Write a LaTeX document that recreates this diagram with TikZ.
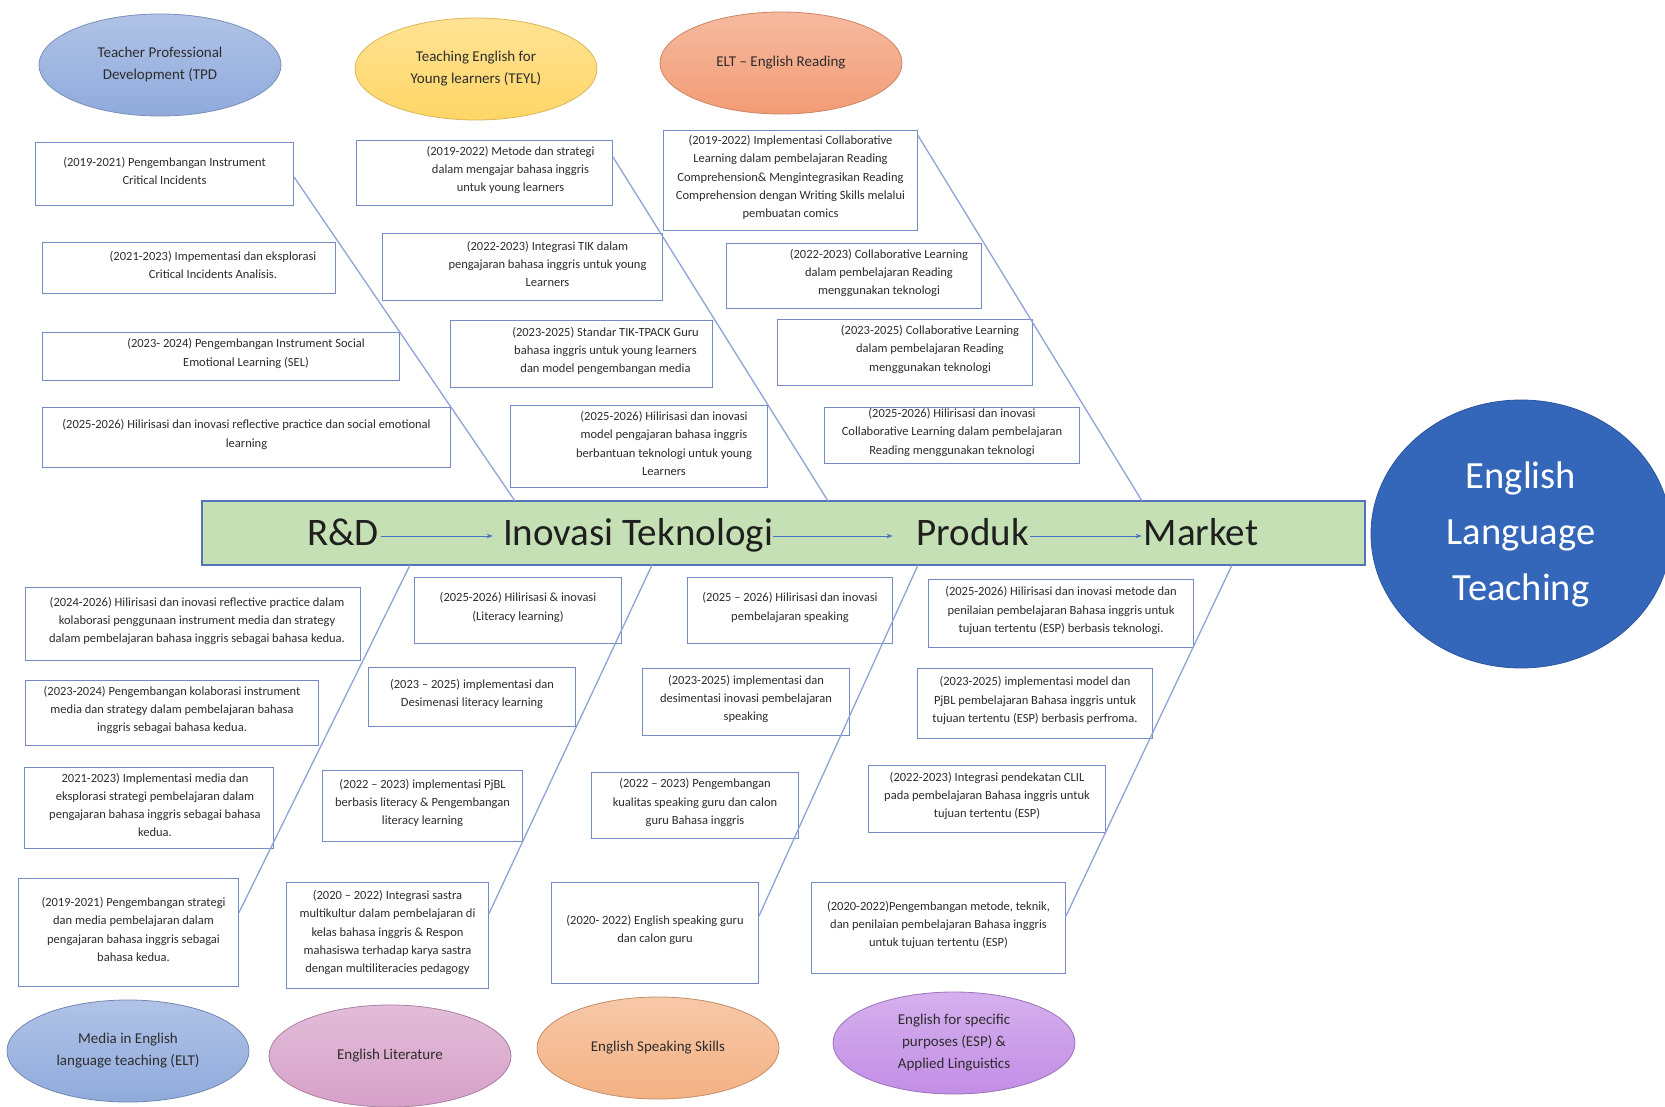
\documentclass[tikz,border=0pt]{standalone}
\usepackage{fontspec}
\setmainfont{Carlito}
\usetikzlibrary{shapes.geometric,arrows.meta}

\definecolor{boxline}{RGB}{118,138,196}
\definecolor{boneline}{RGB}{143,163,214}
\definecolor{spinefill}{RGB}{197,224,180}
\definecolor{spineline}{RGB}{84,116,186}
\definecolor{flowline}{RGB}{68,114,196}
\definecolor{goalblue}{RGB}{52,102,186}
\definecolor{tpdblue}{RGB}{143,170,220}
\definecolor{teylgold}{RGB}{255,214,102}
\definecolor{eltsalmon}{RGB}{242,156,118}
\definecolor{litpink}{RGB}{214,160,200}
\definecolor{spkorange}{RGB}{244,177,131}
\definecolor{esppurple}{RGB}{195,142,230}
\definecolor{textgray}{RGB}{45,45,45}

\newcommand{\yearfont}{\fontsize{12.5}{18.3}\selectfont}
\newcommand{\topicfont}{\fontsize{15}{22}\selectfont}
\newcommand{\stagefont}{\fontsize{39}{47}\selectfont}
\newcommand{\goalfont}{\fontsize{38.5}{56}\selectfont}

\tikzset{
  yearbox/.style={draw=boxline, fill=white, line width=1pt, inner sep=0pt, anchor=north west},
  yeartext/.style={font=\yearfont, align=center, text=textgray, inner sep=0pt, yshift=3pt},
  topic/.style={ellipse, minimum width=242pt, minimum height=102pt, inner sep=0pt,
    align=center, font=\topicfont, text=textgray, line width=0.8pt},
  spine/.style={draw=spineline, fill=spinefill, line width=1.2pt, inner sep=0pt,
    minimum width=1163pt, minimum height=64pt},
  stage/.style={font=\stagefont, text=black!88, inner sep=0pt, anchor=base,
    text height=26pt, text depth=8pt},
  flow/.style={draw=flowline, line width=0.9pt, -{Stealth[length=6pt,width=4.5pt]}},
  bone/.style={draw=boneline, line width=1.3pt},
  goal/.style={ellipse, fill=goalblue, draw=goalblue!85!black, line width=0.8pt,
    minimum width=300pt, minimum height=268pt, inner sep=0pt, align=center,
    font=\goalfont, text=white}
}

\begin{document}
\begin{tikzpicture}[x=1pt, y=-1pt]
  \path[use as bounding box, fill=white] (0,0) rectangle (1665,1107);
  % goal of the fishbone
  \node[goal] (goal) at (1521,534) {English\\Language\\Teaching};
  % spine with its stages
  \node[spine] (spine) at (783.5,533) {};
  \foreach \name/\cx/\txt in {rd/343/R\&D, inovasi/638/Inovasi Teknologi, produk/973/Produk, market/1201/Market}
  {
    \node[stage] (\name) at (\cx,545) {\txt};
  }
  \draw[flow, shorten <=2pt, shorten >=10pt] (rd) -- (inovasi);
  \draw[flow, shorten >=24pt] (inovasi) -- (produk);
  \draw[flow, shorten <=1pt, shorten >=2pt] (produk) -- (market);
  % topics above the spine
  \foreach \name/\cx/\cy/\col/\txt in {tpd/160/65/tpdblue/{Teacher Professional\\Development (TPD},
    teyl/476/69/teylgold/{Teaching English for\\Young learners (TEYL)},
    elt/781/63/eltsalmon/{ELT -- English Reading}}
  {
    \node[topic, top color=\col!70!white, bottom color=\col, draw=\col!85!black] (\name) at (\cx,\cy) {\txt};
  }
  % topics below the spine
  \foreach \name/\cx/\cy/\col/\txt in {med/128/1051/tpdblue/{Media in English\\language teaching (ELT)},
    lit/390/1056/litpink/{English Literature},
    spk/658/1048/spkorange/{English Speaking Skills},
    esp/954/1043/esppurple/{English for specific\\purposes (ESP) \&\\Applied Linguistics}}
  {
    \node[topic, top color=\col!70!white, bottom color=\col, draw=\col!80!black] (\name) at (\cx,\cy) {\txt};
  }
  % TPD boxes
  \foreach \name/\xa/\ya/\xb/\yb/\dx/\txt in {
    tpdA/35/142/293/205/0/{(2019-2021) Pengembangan Instrument\\Critical Incidents},
    tpdB/42/242/335/293/24/{(2021-2023) Impementasi dan eksplorasi\\Critical Incidents Analisis.},
    tpdC/42/332/399/380/25/{(2023- 2024) Pengembangan Instrument Social\\Emotional Learning (SEL)},
    tpdD/42/407/450/467/0/{(2025-2026) Hilirisasi dan inovasi reflective practice dan social emotional\\learning}}
  {
    \node[yearbox, minimum width={(\xb-\xa)*1pt}, minimum height={(\yb-\ya)*1pt}] (\name) at (\xa,\ya) {};
    \node[yeartext, xshift=\dx pt] (\name-txt) at (\name.center) {\txt};
  }
  % TEYL boxes
  \foreach \name/\xa/\ya/\xb/\yb/\dx/\txt in {
    teylA/356/140/612/205/26/{(2019-2022) Metode dan strategi\\dalam mengajar bahasa inggris\\untuk young learners},
    teylB/382/233/662/300/25/{(2022-2023) Integrasi TIK dalam\\pengajaran bahasa inggris untuk young\\Learners},
    teylC/450/320/712/387/24/{(2023-2025) Standar TIK-TPACK Guru\\bahasa inggris untuk young learners\\dan model pengembangan media},
    teylD/510/405/767/487/25/{(2025-2026) Hilirisasi dan inovasi\\model pengajaran bahasa inggris\\berbantuan teknologi untuk young\\Learners}}
  {
    \node[yearbox, minimum width={(\xb-\xa)*1pt}, minimum height={(\yb-\ya)*1pt}] (\name) at (\xa,\ya) {};
    \node[yeartext, xshift=\dx pt] (\name-txt) at (\name.center) {\txt};
  }
  % ELT reading boxes
  \foreach \name/\xa/\ya/\xb/\yb/\dx/\txt in {
    eltA/663/130/917/230/0/{(2019-2022) Implementasi Collaborative\\Learning dalam pembelajaran Reading\\Comprehension\& Mengintegrasikan Reading\\Comprehension dengan Writing Skills melalui\\pembuatan comics},
    eltB/726/243/981/308/25/{(2022-2023) Collaborative Learning\\dalam pembelajaran Reading\\menggunakan teknologi},
    eltC/777/319/1032/385/25/{(2023-2025) Collaborative Learning\\dalam pembelajaran Reading\\menggunakan teknologi},
    eltD/824/407/1079/463/0/{(2025-2026) Hilirisasi dan inovasi\\Collaborative Learning dalam pembelajaran\\Reading menggunakan teknologi}}
  {
    \node[yearbox, minimum width={(\xb-\xa)*1pt}, minimum height={(\yb-\ya)*1pt}] (\name) at (\xa,\ya) {};
    \node[yeartext, xshift=\dx pt] (\name-txt) at (\name.center) {\txt};
  }
  % media boxes
  \foreach \name/\xa/\ya/\xb/\yb/\dx/\txt in {
    medA/25/587/360/660/4/{(2024-2026) Hilirisasi dan inovasi reflective practice dalam\\kolaborasi penggunaan instrument media dan strategy\\dalam pembelajaran bahasa inggris sebagai bahasa kedua.},
    medB/25/680/318/745/0/{(2023-2024) Pengembangan kolaborasi instrument\\media dan strategy dalam pembelajaran bahasa\\inggris sebagai bahasa kedua.},
    medC/24/767/273/848/6/{2021-2023) Implementasi media dan\\eksplorasi strategi pembelajaran dalam\\pengajaran bahasa inggris sebagai bahasa\\kedua.},
    medD/18/878/238/986/5/{(2019-2021) Pengembangan strategi\\dan media pembelajaran dalam\\pengajaran bahasa inggris sebagai\\bahasa kedua.}}
  {
    \node[yearbox, minimum width={(\xb-\xa)*1pt}, minimum height={(\yb-\ya)*1pt}] (\name) at (\xa,\ya) {};
    \node[yeartext, xshift=\dx pt] (\name-txt) at (\name.center) {\txt};
  }
  % literature boxes
  \foreach \name/\xa/\ya/\xb/\yb/\dx/\txt in {
    litA/414/577/621/643/0/{(2025-2026) Hilirisasi \& inovasi\\(Literacy learning)},
    litB/368/667/575/726/0/{(2023 -- 2025) implementasi dan\\Desimenasi literacy learning},
    litC/322/770/522/841/0/{(2022 -- 2023) implementasi PjBL\\berbasis literacy \& Pengembangan\\literacy learning},
    litD/286/882/488/988/0/{(2020 -- 2022) Integrasi sastra\\multikultur dalam pembelajaran di\\kelas bahasa inggris \& Respon\\mahasiswa terhadap karya sastra\\dengan multiliteracies pedagogy}}
  {
    \node[yearbox, minimum width={(\xb-\xa)*1pt}, minimum height={(\yb-\ya)*1pt}] (\name) at (\xa,\ya) {};
    \node[yeartext, xshift=\dx pt] (\name-txt) at (\name.center) {\txt};
  }
  % speaking boxes
  \foreach \name/\xa/\ya/\xb/\yb/\dx/\txt in {
    spkA/687/577/892/643/0/{(2025 -- 2026) Hilirisasi dan inovasi\\pembelajaran speaking},
    spkB/642/668/849/735/0/{(2023-2025) implementasi dan\\desimentasi inovasi pembelajaran\\speaking},
    spkC/591/772/798/838/0/{(2022 -- 2023) Pengembangan\\kualitas speaking guru dan calon\\guru Bahasa inggris},
    spkD/551/882/758/983/0/{(2020- 2022) English speaking guru\\dan calon guru}}
  {
    \node[yearbox, minimum width={(\xb-\xa)*1pt}, minimum height={(\yb-\ya)*1pt}] (\name) at (\xa,\ya) {};
    \node[yeartext, xshift=\dx pt] (\name-txt) at (\name.center) {\txt};
  }
  % ESP boxes
  \foreach \name/\xa/\ya/\xb/\yb/\dx/\txt in {
    espA/928/579/1193/647/0/{(2025-2026) Hilirisasi dan inovasi metode dan\\penilaian pembelajaran Bahasa inggris untuk\\tujuan tertentu (ESP) berbasis teknologi.},
    espB/917/668/1152/738/0/{(2023-2025) implementasi model dan\\PjBL pembelajaran Bahasa inggris untuk\\tujuan tertentu (ESP) berbasis perfroma.},
    espC/868/765/1105/832/0/{(2022-2023) Integrasi pendekatan CLIL\\pada pembelajaran Bahasa inggris untuk\\tujuan tertentu (ESP)},
    espD/811/882/1065/973/0/{(2020-2022)Pengembangan metode, teknik,\\dan penilaian pembelajaran Bahasa inggris\\untuk tujuan tertentu (ESP)}}
  {
    \node[yearbox, minimum width={(\xb-\xa)*1pt}, minimum height={(\yb-\ya)*1pt}] (\name) at (\xa,\ya) {};
    \node[yeartext, xshift=\dx pt] (\name-txt) at (\name.center) {\txt};
  }
  % bone ends on the spine
  \coordinate (tpdEnd) at (515,501);
  \coordinate (teylEnd) at (828,501);
  \coordinate (eltEnd) at (1142,501);
  \coordinate (medEnd) at (410,565);
  \coordinate (litEnd) at (652,565);
  \coordinate (spkEnd) at (918,565);
  \coordinate (espEnd) at (1232,565);
  % bones
  \foreach \from/\dy/\to in {tpdA/-3/tpdEnd, teylA/16/teylEnd, eltA/45/eltEnd,
    medD/20/medEnd, litD/22/litEnd, spkD/17/spkEnd, espD/12/espEnd}
  {
    \draw[bone] ([yshift=\dy pt]\from.east) -- (\to);
  }
\end{tikzpicture}
\end{document}
